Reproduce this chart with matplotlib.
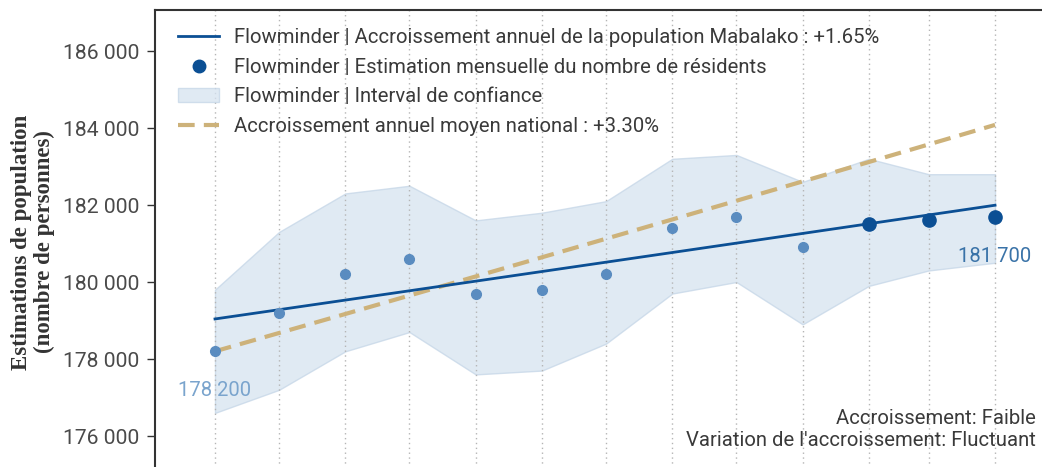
import matplotlib
matplotlib.use("Agg")
import matplotlib.pyplot as plt
import matplotlib.dates as mdates
from matplotlib.ticker import FuncFormatter
import numpy as np
import pandas as pd

# Monthly resident estimates (Mabalako)
dates = pd.date_range("2022-04-01", periods=13, freq="MS")
estimates = [178200, 179200, 180200, 180600, 179700, 179800, 180200,
             181400, 181700, 180900, 181500, 181600, 181700]
ci_upper = [179800, 181300, 182300, 182500, 181600, 181800, 182100,
            183200, 183300, 182600, 183200, 182800, 182800]
ci_lower = [176600, 177200, 178200, 178700, 177600, 177700, 178400,
            179700, 180000, 178900, 179900, 180300, 180500]
# number of most recent months drawn in the darker tone
n_recent = 3

# Annual growth trends
local_start, local_rate = 179040, 0.0165
national_start, national_rate = 178200, 0.0330

yticks = [176000, 178000, 180000, 182000, 184000, 186000]

label_trend = "Flowminder | Accroissement annuel de la population Mabalako : +1.65%"
label_points = "Flowminder | Estimation mensuelle du nombre de résidents"
label_ci = "Flowminder | Interval de confiance"
label_nat = "Accroissement annuel moyen national : +3.30%"
note_lines = ["Accroissement: Faible", "Variation de l'accroissement: Fluctuant"]

DARK = "#0b4f94"
LIGHT = "#5a8cc0"
BAND = "#d6e3f0"
TAN = "#cdb27a"
TXT = "#3a3a3a"
FS = 14.6

plt.rcParams["font.family"] = ["Roboto", "DejaVu Sans"]

W, H = 1042, 467
fig = plt.figure(figsize=(W / 100, H / 100), dpi=100)

# axes box in pixels (extends past the lower/right edges of the canvas)
left_px, top_px, right_px = 155, 10, 1058
y_top, y_bot = 187065, 174000
px_per_unit = 38.5 / 1000
bottom_px = top_px + (y_top - y_bot) * px_per_unit
ax = fig.add_axes([left_px / W, 1 - bottom_px / H,
                   (right_px - left_px) / W, (bottom_px - top_px) / H])

x = mdates.date2num(dates)
days = x - x[0]
px_per_day = 780 / days[-1]
ax.set_xlim(x[0] - (215 - left_px) / px_per_day,
            x[0] + (right_px - 215) / px_per_day)
ax.set_ylim(y_bot, y_top)

# confidence band
ax.fill_between(x, ci_lower, ci_upper, facecolor=BAND, edgecolor="#c5d6e7",
                linewidth=1, alpha=0.75, zorder=1, label=label_ci)

# growth trend lines
local_trend = local_start * (1 + local_rate) ** (days / 365)
national_trend = national_start * (1 + national_rate) ** (days / 365)
ax.plot(x, local_trend, color=DARK, linewidth=2, zorder=3, label=label_trend)
ax.plot(x, national_trend, color=TAN, linewidth=3, dashes=(4, 2.2),
        zorder=2, label=label_nat)

# monthly estimates
est = np.array(estimates)
ax.plot(x[:-n_recent], est[:-n_recent], "o", color=LIGHT, markersize=7,
        linestyle="none", zorder=4)
ax.plot(x[-n_recent:], est[-n_recent:], "o", color=DARK, markersize=9.5,
        linestyle="none", zorder=4)

# first/last value labels
fmt = lambda v: f"{v:,.0f}".replace(",", " ")
ax.text(x[0], estimates[0] - 1030, fmt(estimates[0]), color="#7aa4cd",
        fontsize=FS, ha="center", va="center")
ax.text(x[-1], estimates[-1] - 1050, fmt(estimates[-1]), color="#3a73a8",
        fontsize=FS, ha="center", va="center")

# vertical dotted grid at each month
ax.set_xticks(x)
ax.grid(axis="x", linestyle=(0, (1, 2.5)), color="#b5b5b5", linewidth=1)
ax.grid(axis="y", visible=False)
ax.tick_params(axis="x", bottom=False, labelbottom=False)

ax.set_yticks(yticks)
ax.yaxis.set_major_formatter(FuncFormatter(lambda v, p: fmt(v)))
ax.tick_params(axis="y", length=6, width=1, color="#333333", pad=5,
               labelsize=FS + 0.6, labelcolor="#4a4a4a")

for side in ("right", "bottom"):
    ax.spines[side].set_visible(False)
for side in ("left", "top"):
    ax.spines[side].set_color("#333333")
    ax.spines[side].set_linewidth(1.5)

fig.text(33 / W, 1 - 242 / H,
         "Estimations de population\n(nombre de personnes)",
         family="Liberation Serif", fontweight="bold", fontsize=16.5,
         color="#333333", rotation=90, ha="center", va="center",
         linespacing=1.08)

# legend
dot_handle = plt.Line2D([], [], marker="o", color=DARK, markersize=9,
                        linestyle="none")
handles, labels = ax.get_legend_handles_labels()
hmap = dict(zip(labels, handles))
leg = ax.legend([hmap[label_trend], dot_handle, hmap[label_ci], hmap[label_nat]],
                [label_trend, label_points, label_ci, label_nat],
                loc="upper left", bbox_to_anchor=(5 / (right_px - left_px), 1.0),
                frameon=False, fontsize=FS, handlelength=2.0,
                handletextpad=0.75, labelspacing=0.52, borderaxespad=0.5)
for t in leg.get_texts():
    t.set_color(TXT)

# notes in the lower right
fig.text(1036 / W, 1 - 419 / H, note_lines[0], ha="right", va="center",
         fontsize=FS, color=TXT)
fig.text(1036 / W, 1 - 441 / H, note_lines[1], ha="right", va="center",
         fontsize=FS, color=TXT)

fig.savefig("out.png", dpi=100)
